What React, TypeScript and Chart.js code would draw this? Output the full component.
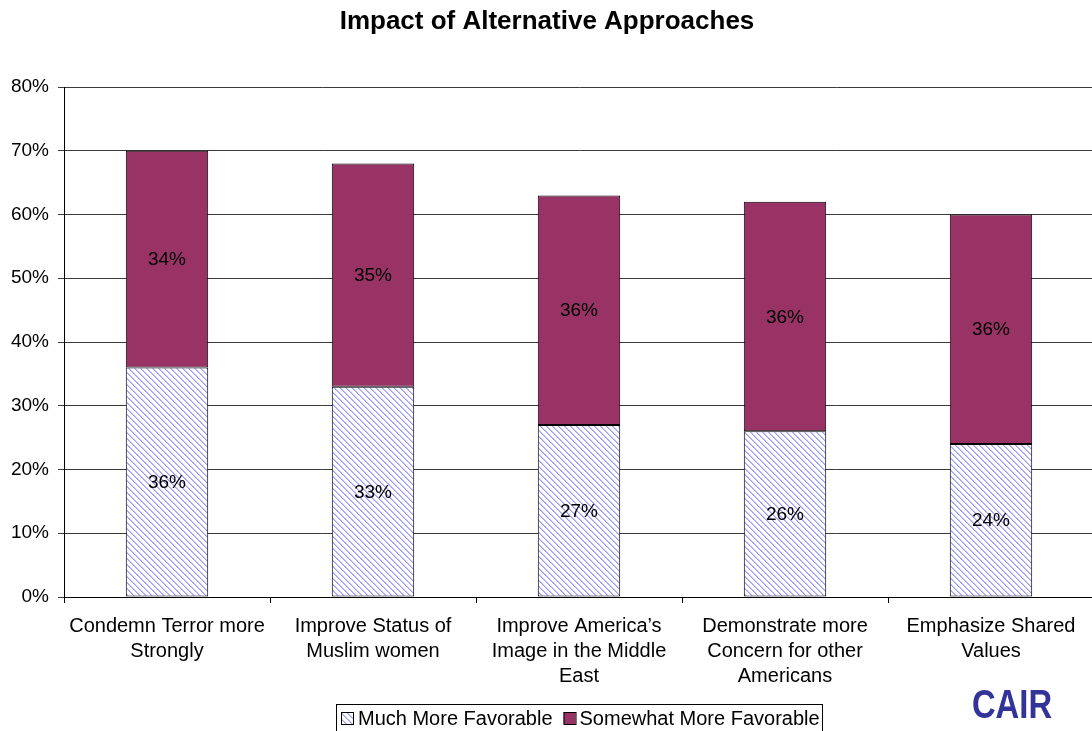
import React, { useEffect, useRef } from "react";
import { Chart, registerables } from "chart.js";

Chart.register(...registerables);

const titleText = "Impact of Alternative Approaches";
const categories: string[][] = [
  ["Condemn Terror more", "Strongly"],
  ["Improve Status of", "Muslim women"],
  ["Improve America’s", "Image in the Middle", "East"],
  ["Demonstrate more", "Concern for other", "Americans"],
  ["Emphasize Shared", "Values"],
];
const seriesNames = ["Much More Favorable", "Somewhat More Favorable"];
const muchMoreFavorable = [36, 33, 27, 26, 24];
const somewhatMoreFavorable = [34, 35, 36, 36, 36];
const yTickValues = [0, 10, 20, 30, 40, 50, 60, 70, 80];
const logoText = "CAIR";

const FONT = "'Liberation Sans', Arial, Helvetica, sans-serif";
const MAROON = "#993366";

function makeHatch(): CanvasPattern | string {
  const c = document.createElement("canvas");
  const n = 6;
  c.width = n;
  c.height = n;
  const g = c.getContext("2d");
  if (!g) return "#c8c8ff";
  g.fillStyle = "#ffffff";
  g.fillRect(0, 0, n, n);
  for (let y = 0; y < n; y++) {
    for (let x = 0; x < n; x++) {
      const d = (((x - y) % n) + n) % n;
      if (d === 0) {
        g.fillStyle = "#9c9cff";
        g.fillRect(x, y, 1, 1);
      } else if (d === 1) {
        g.fillStyle = "#c4c4ff";
        g.fillRect(x, y, 1, 1);
      }
    }
  }
  const p = g.createPattern(c, "repeat");
  return p || "#c8c8ff";
}

export default function App() {
  const ref = useRef<HTMLCanvasElement | null>(null);

  useEffect(() => {
    const canvas = ref.current;
    if (!canvas) return;
    const hatch = makeHatch();

    const labelPlugin = {
      id: "segLabels",
      afterDatasetsDraw(chart: any) {
        const ctx = chart.ctx;
        ctx.save();
        ctx.font = `19px ${FONT}`;
        ctx.fillStyle = "#000";
        ctx.textAlign = "center";
        ctx.textBaseline = "middle";
        chart.data.datasets.forEach((ds: any, di: number) => {
          const meta = chart.getDatasetMeta(di);
          meta.data.forEach((el: any, i: number) => {
            const { x, y, base } = el.getProps(["x", "y", "base"], true);
            ctx.fillText(`${ds.data[i]}%`, x, (y + base) / 2 + 1);
          });
        });
        ctx.restore();
      },
    };

    const legendPlugin = {
      id: "boxLegend",
      afterDraw(chart: any) {
        const ctx = chart.ctx;
        ctx.save();
        ctx.font = `20px ${FONT}`;
        ctx.textBaseline = "middle";
        ctx.textAlign = "left";
        const cy = 718;
        const box = 12;
        ctx.strokeStyle = "#000";
        ctx.lineWidth = 1;
        ctx.strokeRect(336.5, 704.5, 486, 40);
        let x = 341;
        ctx.fillStyle = hatch as any;
        ctx.fillRect(x, cy - box / 2, box, box);
        ctx.strokeRect(x + 0.5, cy - box / 2 + 0.5, box, box);
        x += box + 5;
        ctx.fillStyle = "#000";
        ctx.fillText(seriesNames[0], x, cy + 1);
        x += ctx.measureText(seriesNames[0]).width + 11;
        ctx.fillStyle = MAROON;
        ctx.fillRect(x, cy - box / 2, box, box);
        ctx.strokeRect(x + 0.5, cy - box / 2 + 0.5, box, box);
        x += box + 4;
        ctx.fillStyle = "#000";
        ctx.fillText(seriesNames[1], x, cy + 1);
        // logo
        ctx.translate(1012, 707);
        ctx.scale(0.8, 1);
        ctx.font = `bold 41px ${FONT}`;
        ctx.textAlign = "center";
        ctx.fillStyle = "#333399";
        ctx.fillText(logoText, 0, 0);
        ctx.restore();
      },
    };

    const chart = new Chart(canvas, {
      type: "bar",
      data: {
        labels: categories as any,
        datasets: [
          {
            label: seriesNames[0],
            data: muchMoreFavorable,
            backgroundColor: hatch as any,
            borderColor: "#000",
            borderWidth: 1,
            borderSkipped: false,
          },
          {
            label: seriesNames[1],
            data: somewhatMoreFavorable,
            backgroundColor: MAROON,
            borderColor: "#000",
            borderWidth: 1,
            borderSkipped: false,
          },
        ],
      },
      options: {
        responsive: false,
        animation: false,
        devicePixelRatio: 1,
        layout: { padding: { left: 0, right: 8, top: 0, bottom: 0 } },
        datasets: { bar: { categoryPercentage: 1, barPercentage: 0.4 } },
        plugins: {
          legend: { display: false },
          tooltip: { enabled: false },
          title: {
            display: true,
            text: titleText,
            color: "#000",
            font: { family: FONT, size: 26, weight: "bold", lineHeight: 1.2 },
            padding: { top: 6, bottom: 49.8 },
          },
        },
        scales: {
          x: {
            stacked: true,
            grid: {
              offset: true,
              drawOnChartArea: false,
              drawTicks: true,
              tickLength: 6,
              color: "#000",
            },
            border: { color: "#000", width: 1 },
            ticks: {
              color: "#000",
              font: { family: FONT, size: 20, lineHeight: 1.25 },
              padding: 11,
              maxRotation: 0,
              autoSkip: false,
            },
            afterFit: (s: any) => {
              s.height = 134;
            },
          },
          y: {
            stacked: true,
            min: 0,
            max: 80,
            afterBuildTicks: (s: any) => {
              s.ticks = yTickValues.map((v) => ({ value: v }));
            },
            ticks: {
              color: "#000",
              font: { family: FONT, size: 19 },
              padding: 9,
              callback: (v: any) => `${v}%`,
            },
            grid: { color: "#3a3a3a", lineWidth: 1, tickLength: 6, drawTicks: true },
            border: { color: "#000", width: 1 },
            afterFit: (s: any) => {
              s.width = 64;
            },
          },
        },
      } as any,
      plugins: [labelPlugin, legendPlugin],
    });
    return () => chart.destroy();
  }, []);

  return (
    <div
      style={{
        position: "fixed",
        left: 0,
        top: 0,
        width: 1092,
        height: 731,
        overflow: "hidden",
        background: "#fff",
      }}
    >
      <canvas ref={ref} width={1102} height={731} style={{ display: "block" }} />
    </div>
  );
}
